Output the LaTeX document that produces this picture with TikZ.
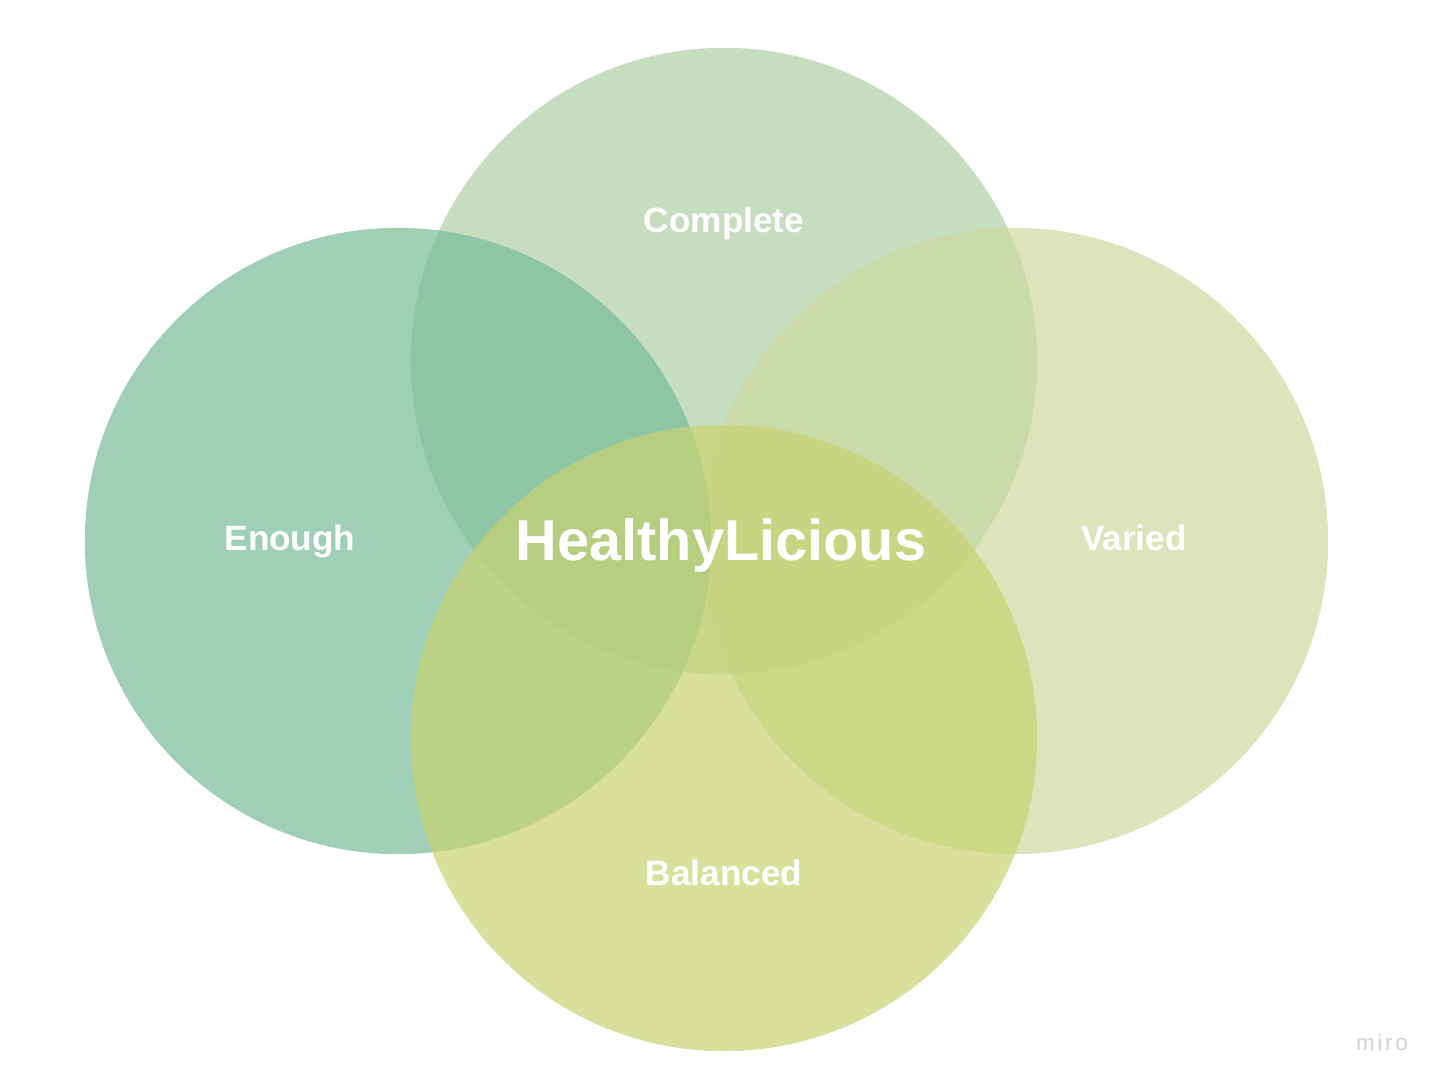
\documentclass[tikz,border=0pt]{standalone}
\usepackage{fontspec}
\setmainfont{Liberation Sans}
\definecolor{enoughgreen}{RGB}{119,186,153}
\definecolor{completegreen}{RGB}{174,208,164}
\definecolor{variedgreen}{RGB}{206,216,159}
\definecolor{balancedgreen}{RGB}{199,211,112}
\begin{document}
\begin{tikzpicture}[x=0.01cm, y=-0.01cm,
		petal/.style={circle, minimum size=6.26cm, inner sep=0pt, fill opacity=0.7},
		petaltext/.style={text=white, anchor=base, font=\bfseries\fontsize{10}{12}\selectfont}]
		\useasboundingbox (0,0) rectangle (1438,1086);
		
		% Circles (DRAW ORDER gives the overlaps)
		\foreach \name/\x/\y/\shade in {complete/724/361/completegreen, varied/1015/541/variedgreen, enough/398/541/enoughgreen, balanced/724/738/balancedgreen} {
			\node[petal, fill=\shade] (\name) at (\x,\y) {};
		}
		
		% Labels
		\foreach \name/\x/\y/\label in {complete/724/233/Complete, enough/290/551/Enough, varied/1134/551/Varied, balanced/724/886/Balanced} {
			\node[petaltext] (\name label) at (\x,\y) {\label};
		}
		\node[petaltext, font=\bfseries\fontsize{16.4}{19}\selectfont] (title) at (721,561) {HealthyLicious};
		
		\node[text=black!18, anchor=base, font=\fontsize{6.4}{8}\selectfont\addfontfeature{LetterSpace=12}] (miro) at (1382,1051) {miro};
	\end{tikzpicture}
\end{document}
